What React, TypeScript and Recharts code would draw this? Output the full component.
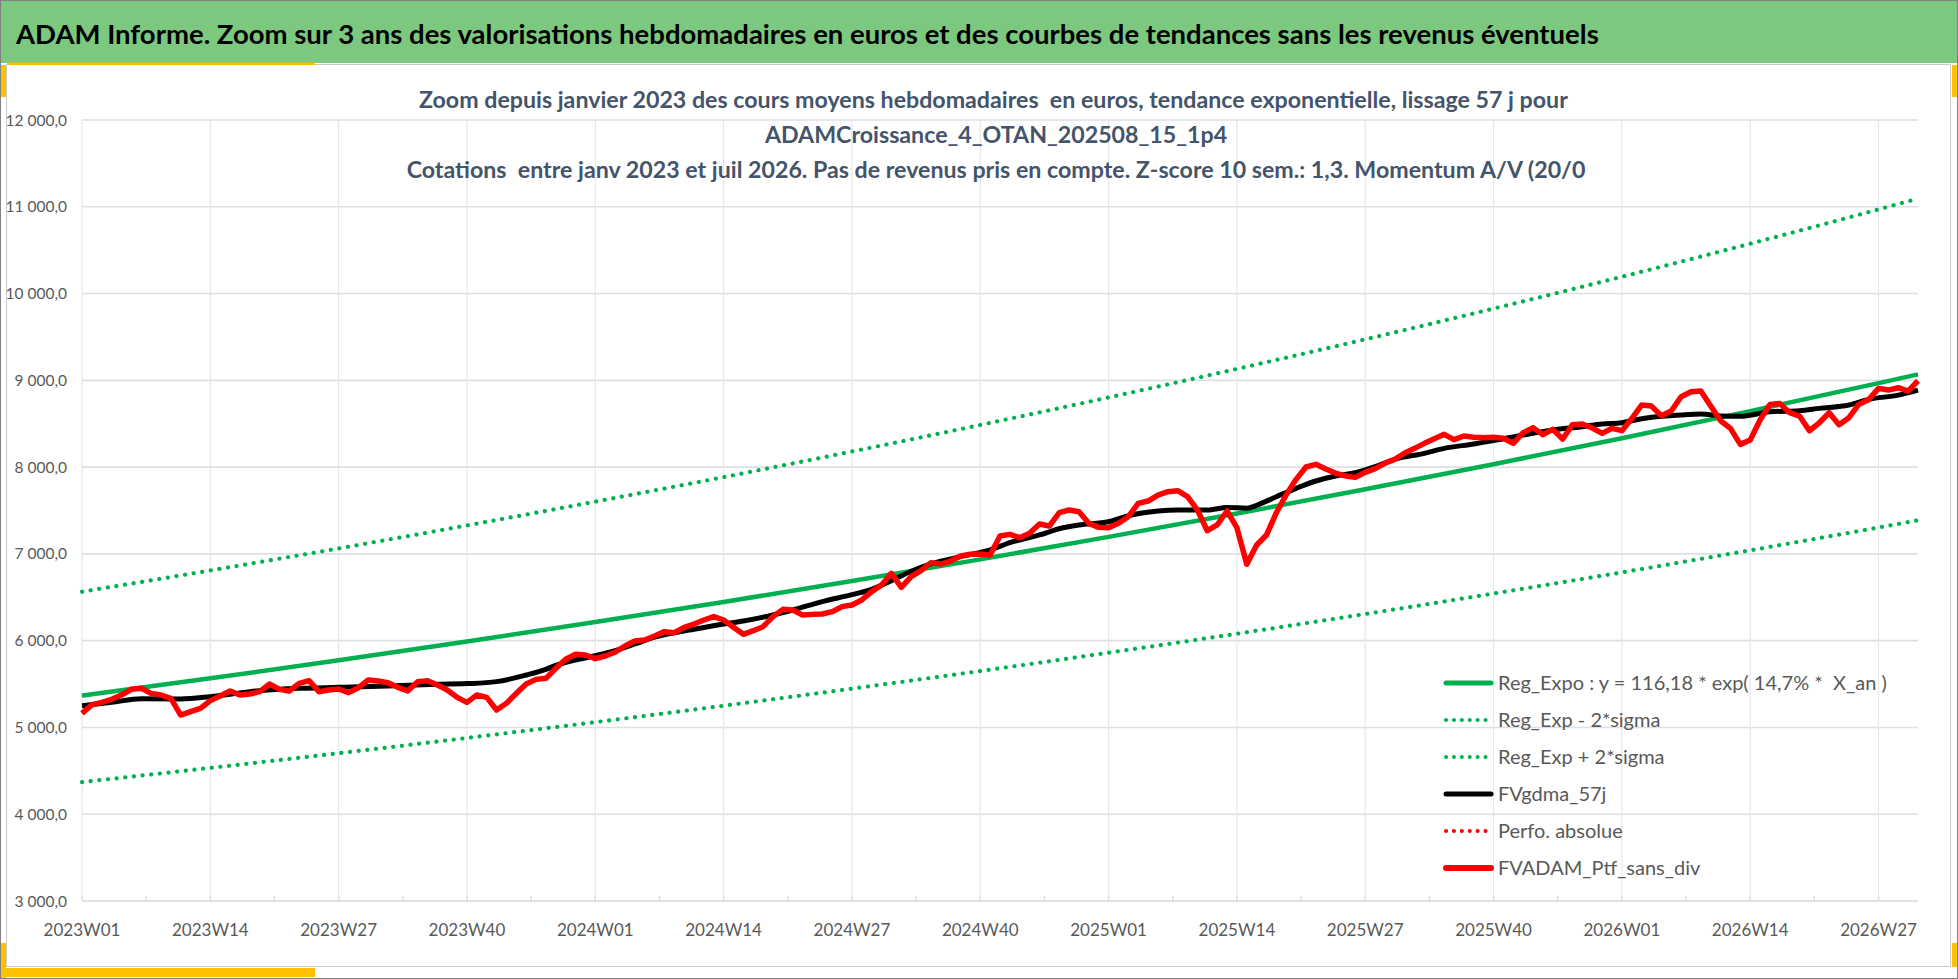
import { LineChart, Line, XAxis, YAxis, CartesianGrid } from "recharts";

const W = 1958;
const H = 979;
const FONT = "Lato, 'Open Sans', sans-serif";

const GREEN = "#00B050";
const RED = "#FF0000";
const GRID = "#DCDFE4";
const TEXT = "#595959";

// x axis: one point per week, 2023W01 = 0 ... 2026W31 = 186
const lastWeek = 186;
const weekTicks = [0, 13, 26, 39, 52, 65, 78, 91, 104, 117, 130, 143, 156, 169, 182];
const weekLabels = [
  "2023W01", "2023W14", "2023W27", "2023W40",
  "2024W01", "2024W14", "2024W27", "2024W40",
  "2025W01", "2025W14", "2025W27", "2025W40",
  "2026W01", "2026W14", "2026W27",
];

const yTicks = [3000, 4000, 5000, 6000, 7000, 8000, 9000, 10000, 11000, 12000];

// regression curves, read at the quarter ticks + last week
const trendWeeks = [0, 13, 26, 39, 52, 65, 78, 91, 104, 117, 130, 143, 156, 169, 182, 186];
const regExpo = [5366, 5566, 5774, 5990, 6214, 6446, 6687, 6937, 7196, 7465, 7744, 8033, 8333, 8645, 8968, 9069];
const regLower = [4370, 4534, 4703, 4879, 5061, 5250, 5447, 5650, 5861, 6080, 6307, 6543, 6787, 7041, 7304, 7387];
const regUpper = [6564, 6809, 7063, 7328, 7602, 7885, 8180, 8486, 8803, 9132, 9473, 9827, 10194, 10575, 10970, 11095];

// FVgdma_57j (smoothed), read every few weeks
const gdmaWeeks = [
  0, 3, 6, 10, 13, 17, 22, 26, 31, 36, 39, 42, 45, 47, 48, 50, 52, 54, 56, 58,
  62, 65, 67, 70, 72, 75, 78, 80, 82, 84, 86, 89, 92, 94, 97, 99, 101, 104, 106, 109,
  111, 114, 116, 118, 119, 121, 123, 125, 127, 129, 131, 133, 136, 138, 141, 143, 146, 149, 152, 154,
  156, 158, 162, 164, 166, 168, 171, 174, 176, 179, 181, 184, 186,
];
const gdma = [
  5251, 5290, 5330, 5328, 5355, 5412, 5451, 5462, 5478, 5497, 5505, 5528, 5604, 5670, 5715, 5777, 5827, 5885, 5962, 6040,
  6131, 6192, 6227, 6296, 6353, 6450, 6530, 6591, 6690, 6800, 6885, 6968, 7045, 7129, 7218, 7290, 7333, 7371, 7440, 7494,
  7506, 7506, 7536, 7525, 7560, 7659, 7755, 7840, 7898, 7936, 8005, 8090, 8159, 8216, 8266, 8305, 8370, 8428, 8466, 8497,
  8512, 8558, 8600, 8611, 8590, 8585, 8638, 8650, 8677, 8715, 8780, 8830, 8888,
];

// FVADAM_Ptf_sans_div, weekly
const ptf = [
  5163, 5259, 5290, 5324, 5374, 5439, 5451, 5393, 5374, 5335, 5143, 5182, 5220,
  5309, 5362, 5420, 5374, 5385, 5412, 5501, 5439, 5420, 5508, 5539, 5412, 5431,
  5443, 5401, 5458, 5547, 5535, 5516, 5462, 5420, 5527, 5539, 5489, 5431, 5347,
  5289, 5374, 5347, 5201, 5278, 5393, 5501, 5554, 5566, 5681, 5785, 5843, 5835,
  5793, 5823, 5866, 5939, 5996, 6008, 6054, 6104, 6092, 6154, 6192, 6238, 6277,
  6238, 6154, 6073, 6115, 6161, 6277, 6361, 6353, 6296, 6303, 6307, 6334, 6392,
  6411, 6469, 6565, 6641, 6776, 6615, 6737, 6807, 6899, 6883, 6918, 6976, 6995,
  6999, 6987, 7206, 7225, 7187, 7237, 7344, 7321, 7475, 7506, 7486, 7352, 7306,
  7302, 7352, 7429, 7582, 7609, 7678, 7717, 7728, 7659, 7506, 7267, 7333, 7494,
  7302, 6880, 7102, 7218, 7475, 7682, 7859, 8001, 8032, 7978, 7932, 7898, 7882,
  7940, 7982, 8044, 8090, 8163, 8216, 8274, 8328, 8378, 8316, 8358, 8343, 8339,
  8343, 8332, 8274, 8397, 8455, 8374, 8435, 8324, 8489, 8497, 8451, 8389, 8447,
  8420, 8560, 8715, 8703, 8592, 8646, 8811, 8869, 8876, 8703, 8534, 8446, 8262,
  8312, 8542, 8723, 8734, 8627, 8588, 8419, 8511, 8627, 8488, 8569, 8723, 8777,
  8907, 8888, 8915, 8876, 8995,
];

const pairs = (xs: number[], ys: number[]) => xs.map((i, k) => ({ i, v: ys[k] }));
const expoData = pairs(trendWeeks, regExpo);
const lowerData = pairs(trendWeeks, regLower);
const upperData = pairs(trendWeeks, regUpper);
const gdmaData = pairs(gdmaWeeks, gdma);
const ptfData = ptf.map((v, i) => ({ i, v }));

// minor tick marks half-way between labelled weeks
const axisTicks = weekTicks.flatMap((t) => [t, t + 6.5]).filter((t) => t <= lastWeek);

const legendItems = [
  { label: "Reg_Expo : y = 116,18 * exp( 14,7% *  X_an )", color: GREEN, dotted: false, w: 5 },
  { label: "Reg_Exp - 2*sigma", color: GREEN, dotted: true, w: 4 },
  { label: "Reg_Exp + 2*sigma", color: GREEN, dotted: true, w: 4 },
  { label: "FVgdma_57j", color: "#000000", dotted: false, w: 5 },
  { label: "Perfo. absolue", color: RED, dotted: true, w: 4 },
  { label: "FVADAM_Ptf_sans_div", color: RED, dotted: false, w: 6 },
];

const titleLines = [
  "Zoom depuis janvier 2023 des cours moyens hebdomadaires  en euros, tendance exponentielle, lissage 57 j pour ",
  "ADAMCroissance_4_OTAN_202508_15_1p4",
  "Cotations  entre janv 2023 et juil 2026. Pas de revenus pris en compte. Z-score 10 sem.: 1,3. Momentum A/V (20/0",
];

function fmtFr(v: number) {
  const th = Math.floor(v / 1000);
  const rest = String(v % 1000).padStart(3, "0");
  return `${th} ${rest},0`;
}

function WeekTick({ x, y, payload }: any) {
  const k = weekTicks.indexOf(payload.value);
  return (
    <g>
      <line x1={x} x2={x} y1={y} y2={y - 5} stroke={GRID} strokeWidth={1.5} />
      {k >= 0 && (
        <text x={x} y={y + 35} textAnchor="middle" fill={TEXT} fontSize={17} fontFamily={FONT}>
          {weekLabels[k]}
        </text>
      )}
    </g>
  );
}

export default function App() {
  return (
    <div style={{ position: "absolute", left: 0, top: 0, width: W, height: H, background: "#fff", overflow: "hidden" }}>
      <div style={{ position: "absolute", left: 0, top: 0 }}>
        <LineChart width={W} height={H} margin={{ top: 120, right: 40, bottom: 8, left: 10 }}>
          <CartesianGrid vertical={false} stroke={GRID} strokeWidth={1.6} />
          <CartesianGrid horizontal={false} verticalValues={weekTicks} stroke="#E4E7EB" strokeWidth={1.2} />
          <XAxis
            type="number"
            dataKey="i"
            domain={[0, lastWeek]}
            ticks={axisTicks}
            interval={0}
            height={70}
            tickSize={0}
            tickMargin={0}
            tickLine={false}
            axisLine={{ stroke: GRID, strokeWidth: 1.6 }}
            tick={<WeekTick />}
          />
          <YAxis
            domain={[3000, 12000]}
            ticks={yTicks}
            width={72}
            axisLine={false}
            tickLine={false}
            tickSize={0}
            tickMargin={15}
            tickFormatter={fmtFr}
            tick={{ fill: TEXT, fontSize: 15.5, fontFamily: FONT }}
          />
          <Line data={expoData} dataKey="v" type="monotone" stroke={GREEN} strokeWidth={4.5} dot={false} isAnimationActive={false} />
          <Line data={lowerData} dataKey="v" type="monotone" stroke={GREEN} strokeWidth={4.2} strokeDasharray="0.1 8.6" strokeLinecap="round" dot={false} isAnimationActive={false} />
          <Line data={upperData} dataKey="v" type="monotone" stroke={GREEN} strokeWidth={4.2} strokeDasharray="0.1 8.6" strokeLinecap="round" dot={false} isAnimationActive={false} />
          <Line data={gdmaData} dataKey="v" type="monotone" stroke="#000000" strokeWidth={5} dot={false} isAnimationActive={false} />
          <Line data={ptfData} dataKey="v" type="linear" stroke={RED} strokeWidth={5.5} strokeLinejoin="round" dot={false} isAnimationActive={false} />
        </LineChart>
      </div>

      <svg width={W} height={H} style={{ position: "absolute", left: 0, top: 0, pointerEvents: "none" }}>
        {/* header band */}
        <rect x={0} y={0} width={W} height={63} fill="#7DC87F" />
        <text x={16} y={44} fontSize={27.5} fontWeight={700} fontFamily={FONT} fill="#000">
          ADAM Informe. Zoom sur 3 ans des valorisations hebdomadaires en euros et des courbes de tendances sans les revenus éventuels
        </text>

        {/* frame and yellow corners */}
        <rect x={6.5} y={64.5} width={1944} height={902} fill="none" stroke="#C9C9C9" strokeWidth={1} />
        <rect x={7} y={62.5} width={308} height={2.5} fill="#FFC000" />
        <rect x={0} y={65} width={6} height={32} fill="#FFC000" />
        <rect x={1952} y={65} width={6} height={32} fill="#FFC000" />
        <rect x={1952} y={943} width={6} height={24} fill="#FFC000" />
        <rect x={0} y={943} width={6} height={35} fill="#FFC000" />
        <rect x={0} y={968} width={315} height={9} fill="#FFC000" />
        <rect x={0.5} y={0.5} width={W - 1} height={H - 1} fill="none" stroke="#808080" strokeWidth={1} />

        {/* chart title */}
        <g fontFamily={FONT} fontSize={23.2} fontWeight={700} fill="#44546A" textAnchor="middle">
          {titleLines.map((t, k) => (
            <text key={k} x={996} y={108 + k * 35} xmlSpace="preserve" style={{ whiteSpace: "pre" }}>
              {t}
            </text>
          ))}
        </g>

        {/* legend */}
        {legendItems.map((it, k) => {
          const cy = 683 + k * 37;
          return (
            <g key={it.label}>
              <line
                x1={1446}
                x2={1491}
                y1={cy}
                y2={cy}
                stroke={it.color}
                strokeWidth={it.w}
                strokeLinecap="round"
                strokeDasharray={it.dotted ? "0.1 7.8" : undefined}
              />
              <text x={1498} y={cy + 7} fontSize={20} fontFamily={FONT} fill={TEXT} xmlSpace="preserve" style={{ whiteSpace: "pre" }}>
                {it.label}
              </text>
            </g>
          );
        })}
      </svg>
    </div>
  );
}
